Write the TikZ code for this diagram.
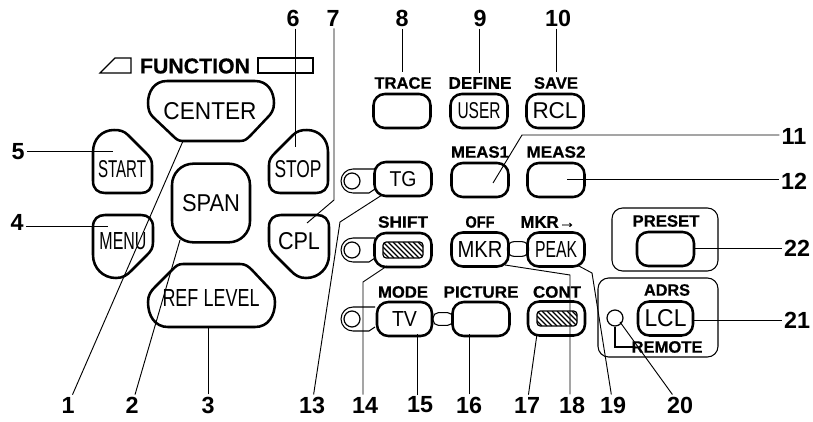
\documentclass[tikz,border=0pt]{standalone}
\usepackage{graphicx}
\usepackage{fontspec}
\setmainfont{Liberation Sans}
\newfontfamily\heavyf[FakeBold=0.6]{Liberation Sans Bold}
\newcommand{\btxt}[3]{\resizebox{\dimexpr #1pt*3/4\relax}{\dimexpr #2pt*3/4\relax}{#3}}
\newcommand{\lbl}[2]{\resizebox{\dimexpr #1pt*3/4\relax}{\dimexpr 11.5pt*3/4\relax}{\heavyf #2}}
\tikzset{
  keyline/.style={line width=1.9pt,line join=round},
  keybtn/.style={keyline,rectangle,rounded corners=8.5pt,inner sep=0pt,minimum width=#1*0.75pt,minimum height=25.5pt},
  keybtn/.default=57,
  thinbox/.style={line width=0.8pt},
  leader/.style={line width=0.7pt,black},
  num/.style={font=\fontsize{17.5}{17.5}\selectfont\bfseries,inner sep=1.5pt},
  capt/.style={inner sep=0pt,text=black},
  hatchbox/.style={line width=0.9pt,rounded corners=2.5pt}
}
\newcommand{\hatchat}[4]{%
  \begin{scope}
    \clip[rounded corners=2.5pt] (#1,#2) rectangle (#3,#4);
    \foreach \u in {-30,-25,...,60}{\draw[line width=1pt] (#1+\u,#2) -- (#1+\u+#4-#2,#4);}
  \end{scope}
  \draw[hatchbox] (#1,#2) rectangle (#3,#4);}
\newcommand{\ledbox}[2]{%
  \draw[thinbox,line join=round] (375,#2-12) -- (353,#2-12) arc[start angle=270,end angle=90,radius=12] -- (369,#2+12) -- (375,#2+8);
  \node[draw,circle,line width=0.9pt,minimum size=12pt,inner sep=0pt] (#1) at (352,#2) {};}
\begin{document}
\begin{tikzpicture}[x=0.75pt,y=-0.75pt]
\useasboundingbox (0,0) rectangle (813,421);
\fill[white] (0,0) rectangle (813,421);

% function heading
\node[capt] (fn) at (195,66) {\btxt{110}{15}{\heavyf FUNCTION}};
\draw[thinbox] (100,73) -- (115,58) -- (131,58) -- (131,73) -- cycle;
\draw[thinbox] (258,58) rectangle (313,73);

% large polygon keys
\draw[keyline] (167,81) -- (255,81) .. controls (268,81) and (274,92) .. (274,103) .. controls (274,110) and (271,114) .. (268,117) -- (251,135) .. controls (247,139) and (245,141) .. (240,141) -- (183,141) .. controls (178,141) and (176,139) .. (172,135) -- (153,117) .. controls (150,114) and (148,110) .. (148,103) .. controls (148,92) and (154,81) .. (167,81) -- cycle;
\node[capt] (tcenter) at (210,111) {\btxt{93}{17}{CENTER}};
\draw[keyline] (93,152) .. controls (93,139) and (102,130) .. (114,130) .. controls (120,130) and (124,131) .. (128,135) -- (146,153) .. controls (150,157) and (152,160) .. (152,165) -- (152,181) .. controls (152,189) and (148,193) .. (141,193) -- (105,193) .. controls (98,193) and (93,189) .. (93,181) -- cycle;
\node[capt] (tstart) at (122,169) {\btxt{48}{17}{START}};
\draw[keyline] (328,152) .. controls (328,139) and (319,130) .. (307,130) .. controls (301,130) and (297,131) .. (293,135) -- (275,153) .. controls (271,157) and (269,160) .. (269,165) -- (269,181) .. controls (269,189) and (273,193) .. (280,193) -- (316,193) .. controls (323,193) and (328,189) .. (328,181) -- cycle;
\node[capt] (tstop) at (298,169) {\btxt{47}{17}{STOP}};
\draw[keyline] (105,215) -- (141,215) .. controls (148,215) and (153,219) .. (153,227) -- (153,242) .. controls (153,248) and (151,251) .. (147,255) -- (131,271) .. controls (127,275) and (123,278) .. (116,278) .. controls (103,278) and (93,268) .. (93,255) -- (93,227) .. controls (93,219) and (98,215) .. (105,215) -- cycle;
\node[capt] (tmenu) at (123,241) {\btxt{47}{17}{MENU}};
\draw[keyline] (317,215) -- (281,215) .. controls (274,215) and (269,219) .. (269,227) -- (269,242) .. controls (269,248) and (271,251) .. (275,255) -- (291,271) .. controls (295,275) and (299,278) .. (306,278) .. controls (319,278) and (329,268) .. (329,255) -- (329,227) .. controls (329,219) and (324,215) .. (317,215) -- cycle;
\node[capt] (tcpl) at (299,241) {\btxt{42}{17}{CPL}};
\node[draw,keyline,rectangle,rounded corners=16pt,minimum width=58.5pt,minimum height=59pt,inner sep=0pt] (span) at (211,203) {\raisebox{-1.5pt}{\btxt{58}{17}{SPAN}}};
\draw[keyline] (187,264) -- (240,264) .. controls (245,264) and (248,266) .. (252,270) -- (268,287) .. controls (272,291) and (275,295) .. (275,302) .. controls (275,316) and (268,327) .. (255,327) -- (168,327) .. controls (155,327) and (148,316) .. (148,302) .. controls (148,295) and (151,291) .. (155,287) -- (172,270) .. controls (176,266) and (178,264) .. (183,264) -- cycle;
\node[capt] (tref) at (211,298) {\btxt{97}{17}{REF\hspace{0.3em}LEVEL}};

% top row
\node[capt] (ltrace) at (403,83) {\lbl{57}{TRACE}};
\node[capt] (ldefine) at (480,83) {\lbl{63}{DEFINE}};
\node[capt] (lsave) at (556,83) {\lbl{44}{SAVE}};
\node[draw,keybtn] (trace) at (402,111) {};
\node[draw,keybtn] (user) at (479,111) {\btxt{43}{16}{USER}};
\node[draw,keybtn] (rcl) at (555,111) {\btxt{45}{16}{RCL}};

% second row
\node[capt] (lmeas1) at (480,152) {\lbl{58}{MEAS1}};
\node[capt] (lmeas2) at (556,152) {\lbl{59}{MEAS2}};
\ledbox{ledtg}{181}
\node[draw,keybtn] (tg) at (403,179) {\btxt{27}{15}{TG}};
\node[draw,keybtn] (meas1) at (480,180) {};
\node[draw,keybtn] (meas2) at (556,180) {};

% third row
\node[capt] (lshift) at (403,222) {\lbl{50}{SHIFT}};
\node[capt] (loff) at (480,222) {\lbl{29}{OFF}};
\node[capt] (lmkr) at (548,222) {\lbl{55}{MKR→}};
\ledbox{ledshift}{250}
\node[draw,keybtn] (shift) at (403,250) {};
\hatchat{383}{242}{423}{258}
\node[draw,thinbox,rounded corners=5pt,minimum width=16pt,minimum height=11pt,inner sep=0pt] (osc1) at (518,249) {};
\node[draw,keybtn] (mkr) at (480,249.5) {\btxt{45}{16}{MKR}};
\node[draw,keybtn] (peak) at (556,249.5) {\btxt{42}{16}{PEAK}};

% fourth row
\node[capt] (lmode) at (403,292) {\lbl{50}{MODE}};
\node[capt] (lpicture) at (481,292) {\lbl{75}{PICTURE}};
\node[capt] (lcont) at (557,292) {\lbl{48}{CONT}};
\ledbox{ledtv}{319}
\node[draw,thinbox,rounded corners=4pt,minimum width=15pt,minimum height=9.5pt,inner sep=0pt] (osc2) at (443,319) {};
\node[draw,keybtn=55] (tv) at (404.5,319) {\btxt{25}{15}{TV}};
\node[draw,keybtn] (picture) at (481,319) {};
\node[draw,keybtn] (cont) at (556.5,318.5) {};
\hatchat{537}{311}{577}{326}

% preset / adrs panels
\draw[thinbox,rounded corners=8pt] (612,208) rectangle (718,271);
\node[capt] (lpreset) at (666,221) {\lbl{67}{PRESET}};
\node[draw,keybtn] (preset) at (665.5,249) {};
\draw[thinbox,rounded corners=8pt] (598,278) rectangle (718,357);
\node[capt] (ladrs) at (667,290) {\lbl{46}{ADRS}};
\node[draw,keybtn=55] (lcl) at (665.5,318.5) {\btxt{42}{17}{LCL}};
\node[draw,circle,line width=0.9pt,minimum size=12pt,inner sep=0pt] (ledr) at (615,318) {};
\node[capt] (lremote) at (667,347) {\lbl{71}{REMOTE}};
\draw[line width=1.6pt] (ledr.south) -- (615,347) -- (633,347);

% numbers
\node[num] (n1) at (68,405) {1};
\node[num] (n2) at (132,405) {2};
\node[num] (n3) at (208,405) {3};
\node[num] (n4) at (17,222) {4};
\node[num] (n5) at (18,152) {5};
\node[num] (n6) at (293,18) {6};
\node[num] (n7) at (333,18) {7};
\node[num] (n8) at (402,18) {8};
\node[num] (n9) at (480,18) {9};
\node[num] (n10) at (558,18) {10};
\node[num] (n11) at (794,136) {11};
\node[num] (n12) at (794,181) {12};
\node[num] (n13) at (312,405) {13};
\node[num] (n14) at (365,405) {14};
\node[num] (n15) at (420,405) {15};
\node[num] (n16) at (469,405) {16};
\node[num] (n17) at (527,405) {17};
\node[num] (n18) at (572,405) {18};
\node[num] (n19) at (613,405) {19};
\node[num] (n20) at (680,405) {20};
\node[num] (n21) at (797,320) {21};
\node[num] (n22) at (797,248) {22};

% leader end points
\coordinate (e1) at (183,141);
\coordinate (e2) at (180,240);
\coordinate (e3) at (208,327);
\coordinate (e4) at (108,226);
\coordinate (e5) at (113,151);
\coordinate (e6) at (295,147);
\coordinate (b7) at (334,200);
\coordinate (e7) at (307,223);
\coordinate (e8) at (402,72);
\coordinate (e9) at (479,73);
\coordinate (e10) at (556,72);
\coordinate (b11) at (522,135);
\coordinate (e11) at (493,183);
\coordinate (e12) at (567,179);
\coordinate (b13) at (340,222);
\coordinate (e13) at (382,195);
\coordinate (b14) at (363,282);
\coordinate (e14) at (387,266);
\coordinate (e15) at (417,334);
\coordinate (e16) at (469,334);
\coordinate (e17) at (537,334);
\coordinate (b18) at (570,275);
\coordinate (e18) at (505,265);
\coordinate (b19) at (592,273);
\coordinate (e19) at (577,265);
\coordinate (e20) at (620,322);

% leaders
\draw[leader] (n1) -- (e1);
\draw[leader] (n2) -- (e2);
\draw[leader] (n3) -- (e3);
\draw[leader] (n4.east |- e4) -- (e4);
\draw[leader] (n5.east |- e5) -- (e5);
\draw[leader] (n6.south -| e6) -- (e6);
\draw[leader] (n7.south -| b7) -- (b7) -- (e7);
\draw[leader] (n8) -- (e8);
\draw[leader] (n9.south -| e9) -- (e9);
\draw[leader] (n10.south -| e10) -- (e10);
\draw[leader] (n11.west |- b11) -- (b11) -- (e11);
\draw[leader] (n12.west |- e12) -- (e12);
\draw[leader] (n13) -- (b13) -- (e13);
\draw[leader] (n14.north -| b14) -- (b14) -- (e14);
\draw[leader] (n15.north -| e15) -- (e15);
\draw[leader] (n16) -- (e16);
\draw[leader] (n17) -- (e17);
\draw[leader] (n18.north -| b18) -- (b18) -- (e18);
\draw[leader] (n19) -- (b19) -- (e19);
\draw[leader] (n20) -- (e20);
\draw[leader] (n21.west) -- (lcl.east |- n21.west);
\draw[leader] (n22.west) -- (preset.east |- n22.west);
\end{tikzpicture}
\end{document}
